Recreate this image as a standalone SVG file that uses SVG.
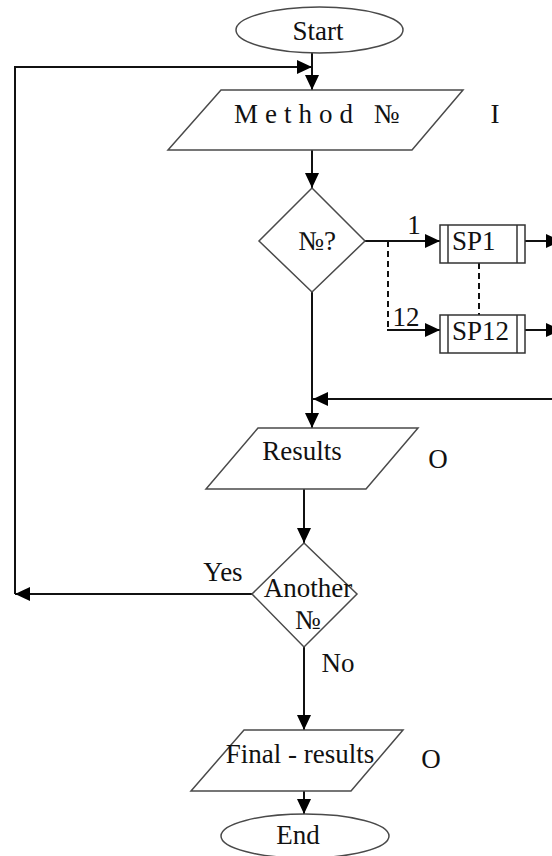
<svg xmlns="http://www.w3.org/2000/svg" width="552" height="856" viewBox="0 0 552 856">
  <style>
    .shape { fill: #ffffff; stroke: #4a4a4a; stroke-width: 1.5; }
    .box { fill: #ffffff; stroke: #333333; stroke-width: 1.5; }
    .wire { fill: none; stroke: #111111; stroke-width: 2; }
    .dash { fill: none; stroke: #111111; stroke-width: 2; stroke-dasharray: 6 4; }
    text { font-family: "Liberation Serif", "Times New Roman", serif; font-size: 27px; fill: #111111; }
    .mid { text-anchor: middle; }
  </style>
  <defs>
    <marker id="arrow" markerUnits="userSpaceOnUse" markerWidth="15" markerHeight="14" refX="15" refY="7" orient="auto">
      <path d="M0,0 L15,7 L0,14 Z" fill="#000000"/>
    </marker>
  </defs>

  <!-- connectors -->
  <g id="connectors">
    <line class="wire" x1="312" y1="53" x2="312" y2="90" marker-end="url(#arrow)"/>
    <polyline class="wire" points="15,594 15,67 312,67" marker-end="url(#arrow)"/>
    <line class="wire" x1="312" y1="150" x2="312" y2="188" marker-end="url(#arrow)"/>
    <line class="wire" x1="365" y1="241" x2="440" y2="241" marker-end="url(#arrow)"/>
    <line class="dash" x1="388" y1="241" x2="388" y2="330"/>
    <line class="wire" x1="387" y1="330" x2="440" y2="330" marker-end="url(#arrow)"/>
    <line class="dash" x1="479" y1="263" x2="479" y2="315"/>
    <line class="wire" x1="525" y1="241" x2="561" y2="241" marker-end="url(#arrow)"/>
    <line class="wire" x1="525" y1="330" x2="561" y2="330" marker-end="url(#arrow)"/>
    <line class="wire" x1="312" y1="292" x2="312" y2="428" marker-end="url(#arrow)"/>
    <line class="wire" x1="560" y1="399" x2="313" y2="399" marker-end="url(#arrow)"/>
    <line class="wire" x1="304" y1="489" x2="304" y2="543" marker-end="url(#arrow)"/>
    <line class="wire" x1="252" y1="594" x2="15" y2="594" marker-end="url(#arrow)"/>
    <line class="wire" x1="304" y1="647" x2="304" y2="730" marker-end="url(#arrow)"/>
    <line class="wire" x1="304" y1="791" x2="304" y2="814" marker-end="url(#arrow)"/>
    <text x="414" y="234" class="mid">1</text>
    <text x="406" y="326" class="mid">12</text>
    <text x="223" y="581" class="mid">Yes</text>
    <text x="338" y="672" class="mid">No</text>
  </g>

  <g id="start">
    <ellipse class="shape" cx="319.5" cy="30" rx="83.5" ry="23"/>
    <text x="318" y="40" class="mid">Start</text>
  </g>

  <g id="method-input">
    <polygon class="shape" points="221,90 463,90 412,150 168,150"/>
    <text x="234" y="123" font-size="25" letter-spacing="7">Method №</text>
    <text x="495" y="123" class="mid">I</text>
  </g>

  <g id="choose-method">
    <polygon class="shape" points="312,188 365,241 312,292 259,241"/>
    <text x="317" y="250" class="mid">№?</text>
  </g>

  <g id="sp1">
    <rect class="box" x="440" y="225" width="85" height="38"/>
    <line class="box" x1="448" y1="225" x2="448" y2="263"/>
    <line class="box" x1="517" y1="225" x2="517" y2="263"/>
    <text x="452" y="250">SP1</text>
  </g>

  <g id="sp12">
    <rect class="box" x="440" y="315" width="85" height="38"/>
    <line class="box" x1="448" y1="315" x2="448" y2="353"/>
    <line class="box" x1="517" y1="315" x2="517" y2="353"/>
    <text x="452" y="340">SP12</text>
  </g>

  <g id="results-output">
    <polygon class="shape" points="258,428 418,428 366,489 206,489"/>
    <text x="302" y="460" class="mid">Results</text>
    <text x="438" y="468" class="mid">O</text>
  </g>

  <g id="another-method">
    <polygon class="shape" points="304,543 357,594 304,647 252,594"/>
    <text x="308" y="597" class="mid">Another</text>
    <text x="308" y="629" class="mid">№</text>
  </g>

  <g id="final-output">
    <polygon class="shape" points="244,730 403,730 351,791 191,791"/>
    <text x="300" y="763" class="mid">Final - results</text>
    <text x="431" y="768" class="mid">O</text>
  </g>

  <g id="end">
    <ellipse class="shape" cx="305" cy="836" rx="84" ry="22"/>
    <text x="298" y="844" class="mid">End</text>
  </g>
</svg>
